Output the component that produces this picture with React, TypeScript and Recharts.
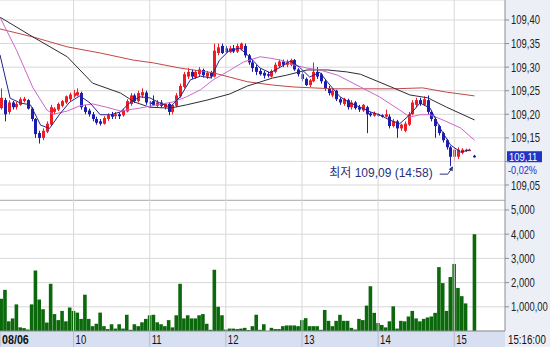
import React from 'react';
import {
  ComposedChart,
  Bar,
  Line,
  XAxis,
  YAxis,
  CartesianGrid,
  ReferenceLine,
  ReferenceDot,
} from 'recharts';

// minutes after 09:00, one candle every 3 minutes
const times = [
  3, 6, 9, 12, 15, 18, 21, 24, 27, 30,
  33, 36, 39, 42, 45, 48, 51, 54, 57, 60,
  63, 66, 69, 72, 75, 78, 81, 84, 87, 90,
  93, 96, 99, 102, 105, 108, 111, 114, 117, 120,
  123, 126, 129, 132, 135, 138, 141, 144, 147, 150,
  153, 156, 159, 162, 165, 168, 171, 174, 177, 180,
  183, 186, 189, 192, 195, 198, 201, 204, 207, 210,
  213, 216, 219, 222, 225, 228, 231, 234, 237, 240,
  243, 246, 249, 252, 255, 258, 261, 264, 267, 270,
  273, 276, 279, 282, 285, 288, 291, 294, 297, 300,
  303, 306, 309, 312, 315, 318, 321, 324, 327, 330,
  333, 336, 339, 342, 345, 348, 351, 354, 357, 360,
  363, 366, 369, 372, 376,
];

const opens = [
  109.213, 109.23, 109.205, 109.225, 109.215, 109.22, 109.228, 109.23, 109.212, 109.19,
  109.16, 109.15, 109.163, 109.178, 109.205, 109.21, 109.218, 109.225, 109.232, 109.238,
  109.24, 109.245, 109.215, 109.208, 109.2, 109.19, 109.185, 109.18, 109.19, 109.2,
  109.196, 109.2, 109.198, 109.206, 109.222, 109.24, 109.228, 109.24, 109.246, 109.225,
  109.228, 109.218, 109.225, 109.215, 109.222, 109.205, 109.218, 109.238, 109.258, 109.28,
  109.29, 109.278, 109.285, 109.294, 109.28, 109.288, 109.28, 109.33, 109.345, 109.34,
  109.332, 109.34, 109.333, 109.338, 109.345, 109.325, 109.31, 109.3, 109.292, 109.288,
  109.285, 109.28, 109.29, 109.302, 109.312, 109.305, 109.305, 109.315, 109.295, 109.285,
  109.275, 109.262, 109.27, 109.29, 109.285, 109.27, 109.255, 109.24, 109.25, 109.232,
  109.222, 109.23, 109.215, 109.225, 109.215, 109.208, 109.215, 109.202, 109.197, 109.2,
  109.198, 109.195, 109.195, 109.175, 109.185, 109.17, 109.165, 109.178, 109.2, 109.22,
  109.23, 109.22, 109.23, 109.205, 109.19, 109.175, 109.16, 109.145, 109.13, 109.11,
  109.11, 109.118, 109.123, 109.125, 109.112,
];

const highs = [
  109.255, 109.235, 109.23, 109.228, 109.226, 109.236, 109.237, 109.232, 109.215, 109.192,
  109.165, 109.17, 109.185, 109.22, 109.215, 109.225, 109.23, 109.24, 109.246, 109.252,
  109.255, 109.248, 109.22, 109.212, 109.205, 109.195, 109.19, 109.196, 109.202, 109.205,
  109.205, 109.204, 109.212, 109.232, 109.245, 109.244, 109.25, 109.255, 109.25, 109.228,
  109.24, 109.23, 109.23, 109.224, 109.225, 109.222, 109.245, 109.265, 109.29, 109.298,
  109.295, 109.294, 109.3, 109.297, 109.292, 109.292, 109.35, 109.35, 109.35, 109.345,
  109.345, 109.347, 109.35, 109.352, 109.35, 109.328, 109.315, 109.305, 109.297, 109.292,
  109.29, 109.295, 109.31, 109.316, 109.316, 109.316, 109.318, 109.317, 109.298, 109.29,
  109.278, 109.275, 109.31, 109.3, 109.288, 109.273, 109.26, 109.255, 109.252, 109.236,
  109.235, 109.233, 109.23, 109.228, 109.22, 109.222, 109.218, 109.205, 109.206, 109.203,
  109.2, 109.21, 109.2, 109.19, 109.188, 109.18, 109.185, 109.205, 109.23, 109.235,
  109.235, 109.238, 109.24, 109.208, 109.195, 109.178, 109.163, 109.148, 109.133, 109.128,
  109.13, 109.128, 109.127, 109.127, 109.114,
];

const lows = [
  109.21, 109.185, 109.2, 109.21, 109.21, 109.218, 109.225, 109.21, 109.185, 109.15,
  109.138, 109.145, 109.16, 109.175, 109.2, 109.207, 109.215, 109.222, 109.228, 109.235,
  109.238, 109.21, 109.2, 109.195, 109.185, 109.178, 109.176, 109.178, 109.186, 109.19,
  109.19, 109.19, 109.195, 109.204, 109.218, 109.224, 109.225, 109.235, 109.22, 109.215,
  109.218, 109.215, 109.214, 109.21, 109.198, 109.2, 109.215, 109.235, 109.255, 109.275,
  109.275, 109.275, 109.28, 109.278, 109.275, 109.276, 109.278, 109.325, 109.328, 109.33,
  109.33, 109.33, 109.33, 109.335, 109.32, 109.305, 109.29, 109.283, 109.282, 109.276,
  109.278, 109.278, 109.287, 109.298, 109.3, 109.3, 109.302, 109.292, 109.28, 109.27,
  109.26, 109.258, 109.268, 109.275, 109.265, 109.25, 109.24, 109.236, 109.228, 109.22,
  109.218, 109.21, 109.21, 109.21, 109.205, 109.205, 109.16, 109.195, 109.195, 109.195,
  109.193, 109.193, 109.17, 109.172, 109.15, 109.165, 109.162, 109.175, 109.198, 109.215,
  109.218, 109.218, 109.2, 109.185, 109.15, 109.155, 109.14, 109.125, 109.09, 109.1,
  109.105, 109.115, 109.12, 109.123, 109.108,
];

const closes = [
  109.235, 109.2, 109.225, 109.215, 109.222, 109.232, 109.233, 109.212, 109.19, 109.158,
  109.15, 109.165, 109.18, 109.215, 109.212, 109.222, 109.228, 109.238, 109.242, 109.245,
  109.247, 109.215, 109.205, 109.2, 109.19, 109.182, 109.18, 109.192, 109.198, 109.195,
  109.2, 109.196, 109.208, 109.228, 109.24, 109.228, 109.245, 109.247, 109.225, 109.222,
  109.22, 109.225, 109.218, 109.222, 109.205, 109.22, 109.24, 109.26, 109.285, 109.29,
  109.28, 109.29, 109.295, 109.283, 109.288, 109.28, 109.335, 109.342, 109.33, 109.332,
  109.34, 109.333, 109.345, 109.35, 109.325, 109.31, 109.298, 109.29, 109.285, 109.282,
  109.283, 109.292, 109.305, 109.312, 109.305, 109.312, 109.315, 109.295, 109.285, 109.275,
  109.262, 109.272, 109.29, 109.28, 109.27, 109.255, 109.245, 109.25, 109.232, 109.225,
  109.232, 109.215, 109.225, 109.213, 109.21, 109.22, 109.2, 109.198, 109.203, 109.198,
  109.196, 109.2, 109.175, 109.185, 109.17, 109.178, 109.18, 109.2, 109.225, 109.23,
  109.222, 109.232, 109.205, 109.19, 109.175, 109.16, 109.145, 109.13, 109.11, 109.125,
  109.125, 109.125, 109.125, 109.125, 109.11,
];

const volumes = [
  1330, 1700, 400, 520, 1100, 150, 120, 60, 1100, 2500,
  1300, 900, 350, 1950, 700, 450, 830, 400, 970, 830,
  760, 500, 1500, 500, 200, 300, 760, 200, 80, 280,
  100, 280, 100, 670, 50, 280, 200, 360, 500, 650,
  670, 360, 280, 200, 450, 150, 650, 1950, 520, 650,
  520, 520, 650, 700, 300, 50, 2530, 1000, 650, 60,
  100, 100, 80, 100, 130, 40, 200, 670, 50, 280,
  0, 130, 80, 80, 200, 230, 230, 230, 200, 450,
  530, 200, 200, 200, 50, 870, 420, 200, 420, 670,
  420, 420, 130, 60, 500, 450, 1050, 1850, 750, 330,
  250, 150, 400, 1020, 100, 420, 400, 600, 830, 520,
  400, 500, 560, 600, 750, 2640, 1980, 830, 2230, 2770,
  1780, 1440, 1140, 0, 4000,
];

// moving averages: [minute, price]
const ma5 = [
  [2, 109.326], [10, 109.234], [18, 109.224], [26, 109.22], [34, 109.177], [41, 109.17],
  [49, 109.2], [57, 109.226], [65, 109.239], [73, 109.224], [81, 109.199], [89, 109.199],
  [97, 109.205], [104, 109.224], [112, 109.237], [120, 109.235], [128, 109.224], [136, 109.215],
  [144, 109.237], [152, 109.273], [160, 109.281], [168, 109.277], [175, 109.315], [183, 109.336],
  [191, 109.34], [199, 109.321], [207, 109.298], [215, 109.288], [223, 109.3], [231, 109.313],
  [238, 109.3], [246, 109.279], [254, 109.289], [262, 109.262], [270, 109.237], [278, 109.224],
  [286, 109.215], [294, 109.205], [301, 109.199], [309, 109.188], [317, 109.18], [325, 109.199],
  [333, 109.224], [341, 109.213], [349, 109.17], [357, 109.135], [365, 109.12], [372, 109.124],
];
const ma20 = [
  [2, 109.406], [15, 109.336], [28, 109.256], [39, 109.209], [44, 109.2], [55, 109.207],
  [65, 109.218], [75, 109.222], [86, 109.215], [97, 109.207], [112, 109.213], [126, 109.22],
  [138, 109.226], [149, 109.237], [160, 109.252], [170, 109.273], [181, 109.29], [194, 109.311],
  [207, 109.322], [215, 109.319], [223, 109.315], [233, 109.305], [244, 109.298], [254, 109.294],
  [268, 109.283], [286, 109.258], [301, 109.237], [317, 109.209], [325, 109.194], [333, 109.199],
  [341, 109.199], [351, 109.188], [365, 109.171], [376, 109.145],
];
const ma60 = [
  [2, 109.406], [28, 109.364], [55, 109.322], [75, 109.266], [97, 109.245], [108, 109.226],
  [120, 109.215], [136, 109.213], [149, 109.22], [165, 109.23], [183, 109.243], [197, 109.26],
  [217, 109.277], [228, 109.283], [244, 109.294], [260, 109.294], [275, 109.29], [286, 109.285],
  [312, 109.256], [325, 109.241], [339, 109.235], [354, 109.215], [376, 109.188],
];
const ma120 = [
  [2, 109.381], [28, 109.364], [55, 109.343], [81, 109.33], [107, 109.315], [123, 109.309],
  [144, 109.298], [170, 109.288], [197, 109.269], [217, 109.262], [233, 109.258], [264, 109.254],
  [286, 109.254], [312, 109.254], [335, 109.256], [354, 109.247], [376, 109.239],
];

const hourTicks = [2, 60, 120, 180, 240, 300, 360];
const hourLabels = ['08/06', '10', '11', '12', '13', '14', '15'];
const priceTicks = [109.05, 109.1, 109.15, 109.2, 109.25, 109.3, 109.35, 109.4];
const volumeTicks = [1000, 2000, 3000, 4000, 5000];
const volumeTickLabels = ['1,000,00', '2,000', '3,000', '4,000', '5,000'];
const lowPoint = { t: 358, price: 109.09, time: '14:58' };
const lastChange = '-0,02%';
const clockLabel = '15:16:00';

const FONT = "'Liberation Sans', 'Noto Sans CJK KR', sans-serif";
const UP = '#ee1c24';
const DOWN = '#1c1cb0';
const GRID = '#d8d8d8';
const AXIS = '#8c8c96';
const PANEL = '#eceff6';
const STRIP = '#d8dff0';
const TAG = '#2233c8';
const NOTE = '#27307e';

const candles = times.map((t, i) => ({
  t,
  open: opens[i],
  high: highs[i],
  low: lows[i],
  close: closes[i],
  volume: volumes[i],
}));
const toPoints = (pairs: number[][]) => pairs.map(([t, p]) => ({ t, p }));
const lastPrice = closes[closes.length - 1];
const fmtPrice = (v: number) => v.toFixed(2).replace('.', ',');

// the original uses a narrow terminal font: squeeze Liberation Sans to those widths
const narrowW: Record<string, number> = { ',': 2.5, '.': 2.5, ':': 3, '-': 3.6, '%': 7, '/': 3.2, ' ': 2.6 };
const emW: Record<string, number> = { ',': 0.278, '.': 0.278, ':': 0.278, '-': 0.333, '%': 0.889, '/': 0.278, ' ': 0.278 };
const sumW = (s: string, table: Record<string, number>, other: number) =>
  [...s].reduce((w, c) => w + (table[c] ?? other), 0);

const NarrowText = ({ x, y, text, fill = '#222', bold = false, size = 12.5 }: any) => {
  const target = sumW(text, narrowW, 5.3) * (bold ? 1.1 : 1);
  const natural = sumW(text, emW, 0.556) * size;
  return (
    <g transform={`translate(${x},${y}) scale(${target / natural},1)`}>
      <text x={0} y={0} fontSize={size} fontFamily={FONT} fontWeight={bold ? 'bold' : 'normal'} fill={fill}>
        {text}
      </text>
    </g>
  );
};

const AxisLabel = (props: any) => {
  const { x, y, payload, index, format } = props;
  const s = format(payload.value, index);
  if (!s) return null;
  return <NarrowText x={x} y={y + 4.5} text={s} />;
};

const Candle = (props: any) => {
  const { x, y, width, height, payload } = props;
  if (!payload || !height) return null;
  const { open, close, high, low } = payload;
  const perUnit = height / (high - low);
  const py = (v: number) => y + (high - v) * perUnit;
  const color = close >= open ? UP : DOWN;
  const mid = Math.round(x + width / 2) + 0.5;
  const top = py(Math.max(open, close));
  const body = Math.max(1.5, Math.abs(py(open) - py(close)));
  return (
    <g>
      <line x1={mid} x2={mid} y1={y} y2={y + height} stroke={color} />
      <rect x={mid - 1.5} y={top} width={3} height={body} fill={color} />
    </g>
  );
};

const LastTag = (props: any) => {
  const { viewBox } = props;
  const x = viewBox.x + viewBox.width + 2;
  const y = viewBox.y;
  return (
    <g>
      <rect x={x} y={y - 5.5} width={35} height={11} fill={TAG} />
      <NarrowText x={x + 2} y={y + 4} text={fmtPrice(lastPrice)} fill="#fff" size={11} />
      <NarrowText x={x + 1} y={y + 17} text={lastChange} fill={TAG} size={11} />
    </g>
  );
};

const LowMarker = (props: any) => {
  const { cx, cy } = props;
  return (
    <g>
      <text x={cx - 19} y={cy + 11} textAnchor="end" fontSize={12} fontFamily={FONT} fill={NOTE}>
        {`최저 ${fmtPrice(lowPoint.price)} (${lowPoint.time})`}
      </text>
      <path d={`M${cx - 12},${cy + 8} H${cx - 4} L${cx + 1},${cy + 1}`} stroke={NOTE} fill="none" />
      <path d={`M${cx + 1},${cy} L${cx - 3},${cy + 3} L${cx + 1},${cy + 5} Z`} fill={NOTE} />
    </g>
  );
};

const HourTick = (props: any) => {
  const { x, y, index } = props;
  return (
    <g>
      <line x1={x} x2={x} y1={y} y2={y + 16} stroke="#b4bccc" />
      <NarrowText x={x + 2} y={y + 12.5} text={hourLabels[index]} fill="#111" bold={index === 0} />
    </g>
  );
};

const App: React.FC = () => {
  return (
    <div
      style={{
        position: 'absolute',
        left: 0,
        top: 0,
        width: 550,
        height: 347,
        background: '#fff',
        overflow: 'hidden',
        fontFamily: FONT,
      }}
    >
      <div style={{ position: 'absolute', left: 505, top: 0, width: 45, height: 347, background: PANEL }} />
      <div style={{ position: 'absolute', left: 0, top: 331, width: 505, height: 16, background: STRIP }} />
      <div style={{ position: 'absolute', left: 0, top: 200, width: 505, height: 1, background: '#9a9a9a' }} />

      <div style={{ position: 'absolute', left: 0, top: 0 }}>
        <ComposedChart width={550} height={200} data={candles} margin={{ top: 0, right: 0, bottom: 0, left: 0 }}>
          <CartesianGrid stroke={GRID} vertical={false} />
          <XAxis type="number" dataKey="t" domain={[2, 400]} allowDataOverflow hide />
          <YAxis
            orientation="right"
            width={45}
            domain={[109.0182, 109.4424]}
            allowDataOverflow
            ticks={priceTicks}
            interval={0}
            tick={<AxisLabel format={(v: number) => (Math.abs(v - lastPrice) < 0.02 ? '' : fmtPrice(v))} />}
            tickSize={4}
            tickMargin={2}
            axisLine={{ stroke: AXIS }}
            tickLine={{ stroke: AXIS }}
          />
          {hourTicks.slice(1).map((h) => (
            <ReferenceLine key={h} x={h} stroke={GRID} />
          ))}
          <Line data={toPoints(ma120)} dataKey="p" stroke="#c04848" strokeWidth={1} dot={false} isAnimationActive={false} />
          <Line data={toPoints(ma60)} dataKey="p" stroke="#2c2c38" strokeWidth={1} dot={false} isAnimationActive={false} />
          <Line data={toPoints(ma20)} dataKey="p" stroke="#cc66cc" strokeWidth={1} dot={false} isAnimationActive={false} />
          <Bar
            dataKey={(d: any) => [d.low, d.high]}
            barSize={3}
            shape={<Candle />}
            isAnimationActive={false}
          />
          <Line data={toPoints(ma5)} dataKey="p" stroke="#24248a" strokeWidth={1} dot={false} isAnimationActive={false} />
          <ReferenceLine y={lastPrice} stroke="none" label={<LastTag />} />
          <ReferenceDot x={lowPoint.t} y={lowPoint.price} r={0} shape={<LowMarker />} />
        </ComposedChart>
      </div>

      <div style={{ position: 'absolute', left: 0, top: 200 }}>
        <ComposedChart width={550} height={147} data={candles} margin={{ top: 0, right: 0, bottom: 0, left: 0 }}>
          <CartesianGrid stroke={GRID} vertical={false} />
          <XAxis
            type="number"
            dataKey="t"
            domain={[2, 400]}
            allowDataOverflow
            ticks={hourTicks}
            interval={0}
            height={16}
            tickSize={0}
            tickMargin={0}
            tickLine={false}
            axisLine={{ stroke: AXIS }}
            tick={<HourTick />}
          />
          <YAxis
            orientation="right"
            width={45}
            domain={[0, 5413]}
            allowDataOverflow
            ticks={volumeTicks}
            interval={0}
            tick={<AxisLabel format={(v: number) => volumeTickLabels[volumeTicks.indexOf(v)]} />}
            tickSize={4}
            tickMargin={2}
            axisLine={{ stroke: AXIS }}
            tickLine={{ stroke: AXIS }}
          />
          {hourTicks.slice(1).map((h) => (
            <ReferenceLine key={h} x={h} stroke={GRID} />
          ))}
          <Bar dataKey="volume" fill="#0b690b" barSize={3.6} isAnimationActive={false} />
        </ComposedChart>
      </div>

      <svg style={{ position: 'absolute', left: 506, top: 331 }} width={44} height={16}>
        <NarrowText x={2} y={12.5} text={clockLabel} fill="#111" />
      </svg>
    </div>
  );
};

export default App;
